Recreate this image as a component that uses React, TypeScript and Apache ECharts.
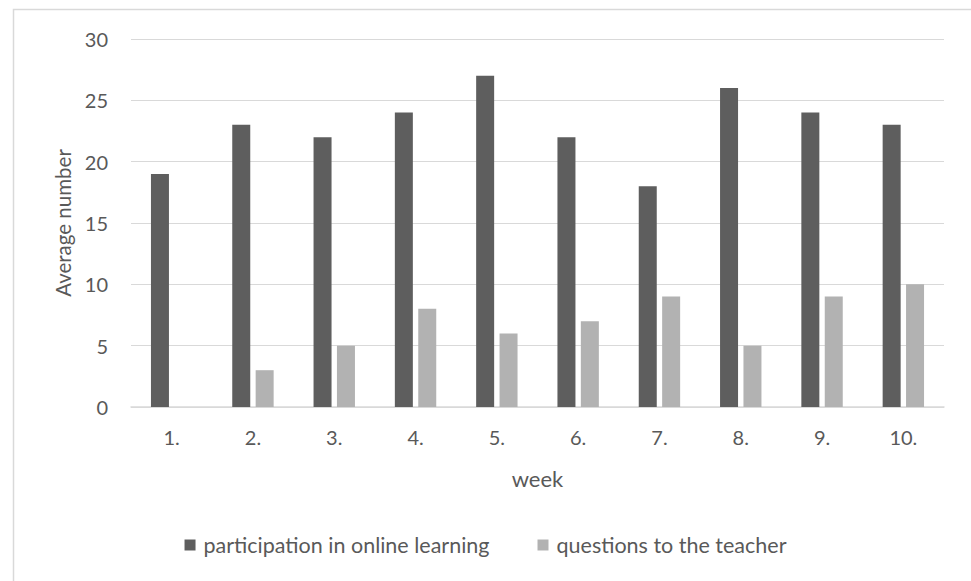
import React, { useEffect, useRef } from "react";
import * as echarts from "echarts";

const weeks = ["1.", "2.", "3.", "4.", "5.", "6.", "7.", "8.", "9.", "10."];
const participation = [19, 23, 22, 24, 27, 22, 18, 26, 24, 23];
const questions = [0, 3, 5, 8, 6, 7, 9, 5, 9, 10];
const seriesNames = ["participation in online learning", "questions to the teacher"];

export default function App() {
  const ref = useRef<HTMLDivElement>(null);
  useEffect(() => {
    document.body.style.margin = "0";
    const chart = echarts.init(ref.current!, null, { renderer: "svg" });
    const font = "Lato, sans-serif";
    const txt = "#595959";
    chart.setOption({
      animation: false,
      backgroundColor: "#ffffff",
      textStyle: { fontFamily: font, color: txt },
      graphic: [
        {
          type: "rect",
          shape: { x: 13.5, y: 9.5, width: 1100, height: 700 },
          style: { fill: "none", stroke: "#d9d9d9", lineWidth: 1.5 },
          silent: true,
        },
      ],
      grid: { left: 131, right: 27, top: 39, bottom: 174 },
      legend: {
        bottom: 20,
        left: "center",
        itemWidth: 11,
        itemHeight: 11,
        itemGap: 48,
        itemStyle: { borderWidth: 0 },
        icon: "rect",
        textStyle: { fontSize: 21.5, color: txt, fontFamily: font, padding: [0, 0, 0, 3] },
        data: seriesNames,
      },
      xAxis: {
        type: "category",
        data: weeks,
        name: "week",
        nameLocation: "middle",
        nameGap: 60,
        nameTextStyle: { fontSize: 22, color: txt, fontFamily: font },
        axisLine: { lineStyle: { color: "#d9d9d9", width: 1.5 } },
        axisTick: { show: false },
        axisLabel: { fontSize: 20, color: txt, margin: 20, fontFamily: font },
      },
      yAxis: {
        type: "value",
        min: 0,
        max: 30,
        interval: 5,
        name: "Average number",
        nameLocation: "middle",
        nameGap: 58,
        nameTextStyle: { fontSize: 20.5, color: txt, fontFamily: font },
        axisLine: { show: false },
        axisTick: { show: false },
        axisLabel: { fontSize: 20, color: txt, margin: 23, fontFamily: font },
        splitLine: { lineStyle: { color: "#d9d9d9", width: 1 } },
      },
      series: [
        {
          name: seriesNames[0],
          type: "bar",
          data: participation,
          barWidth: 18,
          barGap: "30%",
          itemStyle: { color: "#5e5e5e" },
        },
        {
          name: seriesNames[1],
          type: "bar",
          data: questions,
          barWidth: 18,
          barGap: "30%",
          itemStyle: { color: "#b2b2b2" },
        },
      ],
    });
    return () => chart.dispose();
  }, []);
  return <div ref={ref} style={{ width: 971, height: 581 }} />;
}
